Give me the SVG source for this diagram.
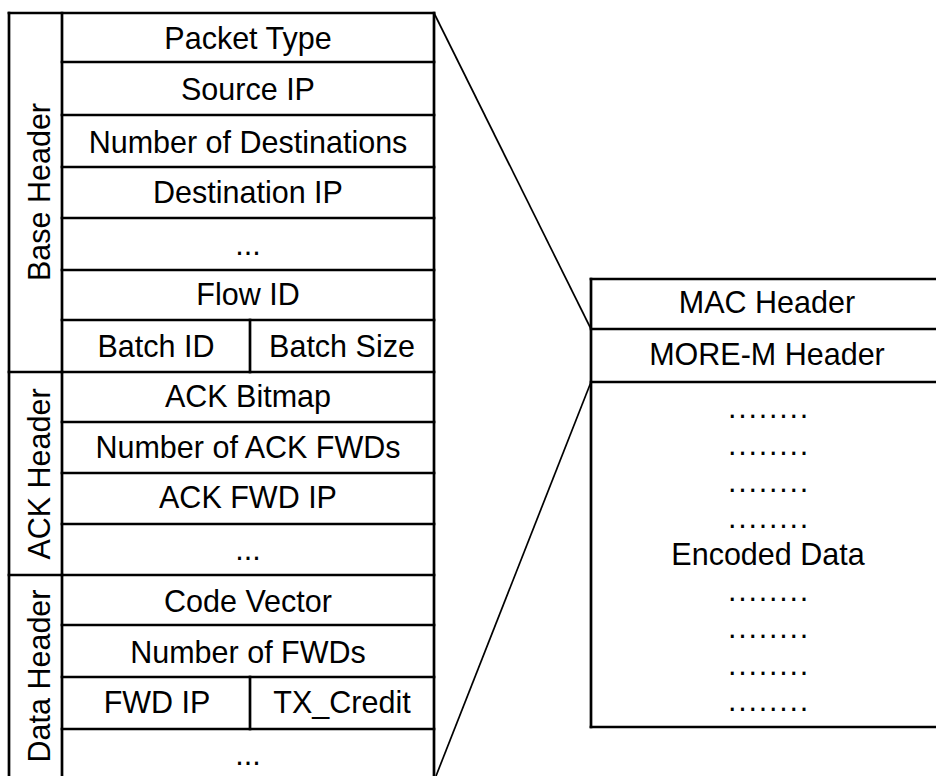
<svg xmlns="http://www.w3.org/2000/svg" width="936" height="776" viewBox="0 0 936 776">
<style>
  .b { fill: none; stroke: #000; stroke-width: 2.7; stroke-linecap: square; }
  .c { fill: none; stroke: #000; stroke-width: 1.7; }
  text { font-family: "Liberation Sans", Arial, sans-serif; font-size: 30.5px; fill: #000; text-anchor: middle; }
  .dots { letter-spacing: 1.8px; }
</style>
<rect width="936" height="776" fill="#fff"/>

<g id="left-frame">
  <line class="b" x1="9" y1="13" x2="434" y2="13"/>
  <line class="b" x1="9" y1="13" x2="9" y2="780"/>
  <line class="b" x1="62" y1="13" x2="62" y2="780"/>
  <line class="b" x1="434" y1="13" x2="434" y2="780"/>
  <line class="b" x1="9" y1="372" x2="62" y2="372"/>
  <line class="b" x1="9" y1="575" x2="62" y2="575"/>
</g>

<g id="base-header-label"><text transform="translate(50,192) rotate(-90)">Base Header</text></g>
<g id="ack-header-label"><text transform="translate(50,474) rotate(-90)">ACK Header</text></g>
<g id="data-header-label"><text transform="translate(50,676) rotate(-90)">Data Header</text></g>

<g id="packet-type"><line class="b" x1="62" y1="62" x2="434" y2="62"/><text x="248" y="49">Packet Type</text></g>
<g id="source-ip"><line class="b" x1="62" y1="115" x2="434" y2="115"/><text x="248" y="100">Source IP</text></g>
<g id="num-destinations"><line class="b" x1="62" y1="167" x2="434" y2="167"/><text x="248" y="153">Number of Destinations</text></g>
<g id="destination-ip"><line class="b" x1="62" y1="218" x2="434" y2="218"/><text x="248" y="203">Destination IP</text></g>
<g id="base-ellipsis"><line class="b" x1="62" y1="270" x2="434" y2="270"/><text x="248" y="255">...</text></g>
<g id="flow-id"><line class="b" x1="62" y1="320" x2="434" y2="320"/><text x="248" y="305">Flow ID</text></g>
<g id="batch-id"><line class="b" x1="250" y1="320" x2="250" y2="372"/><text x="156" y="357">Batch ID</text></g>
<g id="batch-size"><line class="b" x1="62" y1="372" x2="434" y2="372"/><text x="342" y="357">Batch Size</text></g>

<g id="ack-bitmap"><line class="b" x1="62" y1="422" x2="434" y2="422"/><text x="248" y="407">ACK Bitmap</text></g>
<g id="num-ack-fwds"><line class="b" x1="62" y1="473" x2="434" y2="473"/><text x="248" y="458">Number of ACK FWDs</text></g>
<g id="ack-fwd-ip"><line class="b" x1="62" y1="524" x2="434" y2="524"/><text x="248" y="508">ACK FWD IP</text></g>
<g id="ack-ellipsis"><line class="b" x1="62" y1="575" x2="434" y2="575"/><text x="248" y="560">...</text></g>

<g id="code-vector"><line class="b" x1="62" y1="625" x2="434" y2="625"/><text x="248" y="612">Code Vector</text></g>
<g id="num-fwds"><line class="b" x1="62" y1="677" x2="434" y2="677"/><text x="248" y="663">Number of FWDs</text></g>
<g id="fwd-ip"><line class="b" x1="250" y1="677" x2="250" y2="729"/><text x="157" y="713">FWD IP</text></g>
<g id="tx-credit"><line class="b" x1="62" y1="729" x2="434" y2="729"/><text x="342" y="713">TX_Credit</text></g>
<g id="data-ellipsis"><text x="248" y="765">...</text></g>

<g id="packet-box">
  <line class="b" x1="591" y1="279" x2="940" y2="279"/>
  <line class="b" x1="591" y1="279" x2="591" y2="727"/>
  <line class="b" x1="591" y1="727" x2="940" y2="727"/>
</g>
<g id="mac-header"><line class="b" x1="591" y1="329" x2="940" y2="329"/><text x="767" y="313">MAC Header</text></g>
<g id="more-m-header"><line class="b" x1="591" y1="382" x2="940" y2="382"/><text x="767" y="365">MORE-M Header</text></g>
<g id="encoded-data">
  <text class="dots" x="769" y="418">........</text>
  <text class="dots" x="769" y="455">........</text>
  <text class="dots" x="769" y="492">........</text>
  <text class="dots" x="769" y="528">........</text>
  <text x="768" y="565">Encoded Data</text>
  <text class="dots" x="769" y="601">........</text>
  <text class="dots" x="769" y="638">........</text>
  <text class="dots" x="769" y="675">........</text>
  <text class="dots" x="769" y="711">........</text>
</g>

<g id="connectors">
  <line class="c" x1="434" y1="13" x2="591" y2="329"/>
  <line class="c" x1="591" y1="382" x2="436" y2="776"/>
</g>
</svg>
